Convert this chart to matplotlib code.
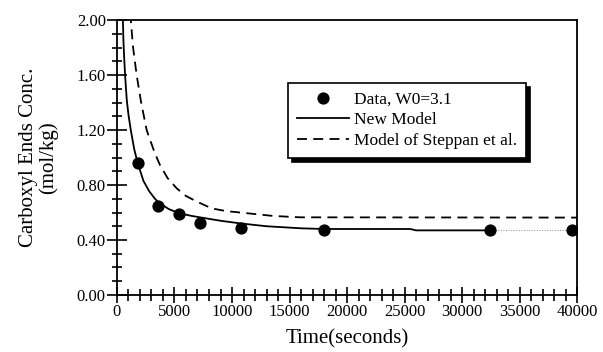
import matplotlib
matplotlib.use("Agg")
import matplotlib.pyplot as plt
from matplotlib.ticker import MultipleLocator, FormatStrFormatter

# measured points
data_t = [1800, 3600, 5400, 7200, 10800, 18000, 32400, 39600]
data_c = [0.96, 0.65, 0.59, 0.52, 0.49, 0.47, 0.47, 0.47]

# new model curve
new_t = [500, 560, 640, 720, 850, 1000, 1200, 1500, 1800, 2300, 2800, 3300, 3600,
         4500, 5400, 6500, 7200, 9000, 10800, 13000, 15000, 16000, 18000,
         25500, 26000, 32400]
new_c = [2.05, 1.85, 1.70, 1.58, 1.42, 1.31, 1.20, 1.06, 0.96, 0.83, 0.755, 0.70, 0.675,
         0.625, 0.595, 0.575, 0.565, 0.54, 0.52, 0.50, 0.49, 0.485, 0.48,
         0.48, 0.47, 0.47]
tail_t = [32400, 39600]
tail_c = [0.47, 0.47]

# Steppan et al. model curve
old_t = [1150, 1400, 1710, 2100, 2580, 2870, 3300, 3740, 4400, 5190, 6000,
         6930, 8230, 9500, 10700, 13570, 15900, 40000]
old_c = [2.05, 1.80, 1.60, 1.40, 1.20, 1.13, 1.03, 0.945, 0.85, 0.776, 0.72,
         0.68, 0.63, 0.61, 0.60, 0.575, 0.565, 0.563]

plt.rcParams["font.family"] = ["Liberation Serif", "DejaVu Serif"]

fig = plt.figure(figsize=(6.03, 3.52), dpi=100)
ax = fig.add_axes([0.194, 0.162, 0.763, 0.781])

ax.plot(data_t, data_c, "o", color="black", ms=7.8, label="Data, W0=3.1", zorder=3)
ax.plot(new_t, new_c, "-", color="black", lw=1.3, label="New Model")
ax.plot(tail_t, tail_c, ":", color="0.55", lw=0.7)
ax.plot(old_t, old_c, color="black", lw=1.3, dashes=(5.5, 3.5),
        label="Model of Steppan et al.")

ax.set_xlim(0, 40000)
ax.set_ylim(0, 2.0)

ax.xaxis.set_major_locator(MultipleLocator(5000))
ax.xaxis.set_minor_locator(MultipleLocator(1000))
ax.yaxis.set_major_locator(MultipleLocator(0.4))
ax.yaxis.set_minor_locator(MultipleLocator(0.1))
ax.yaxis.set_major_formatter(FormatStrFormatter("%.2f"))

ax.tick_params(axis="y", which="major", direction="inout", length=14, width=1.2, labelsize=12, pad=1)
ax.tick_params(axis="y", which="minor", direction="inout", length=7, width=1.2)
ax.tick_params(axis="x", which="major", direction="inout", length=11, width=1.2, labelsize=12, pad=1)
ax.tick_params(axis="x", which="minor", direction="inout", length=8, width=1.2)

for s in ax.spines.values():
    s.set_linewidth(1.3)

ax.set_xlabel("Time(seconds)", fontsize=15, labelpad=7)
ax.set_ylabel("Carboxyl Ends Conc.\n(mol/kg)", fontsize=15, labelpad=13, linespacing=1.05)

leg = ax.legend(loc="upper left", bbox_to_anchor=(0.372, 0.771), fontsize=12.5,
                frameon=True, fancybox=False, edgecolor="black",
                shadow={"color": "black", "alpha": 1, "ox": 3, "oy": -3},
                handlelength=3.0, handletextpad=0.3, labelspacing=0.25,
                borderpad=0.5, borderaxespad=0)
leg.get_frame().set_linewidth(1.2)

fig.savefig("out.png", dpi=100)
